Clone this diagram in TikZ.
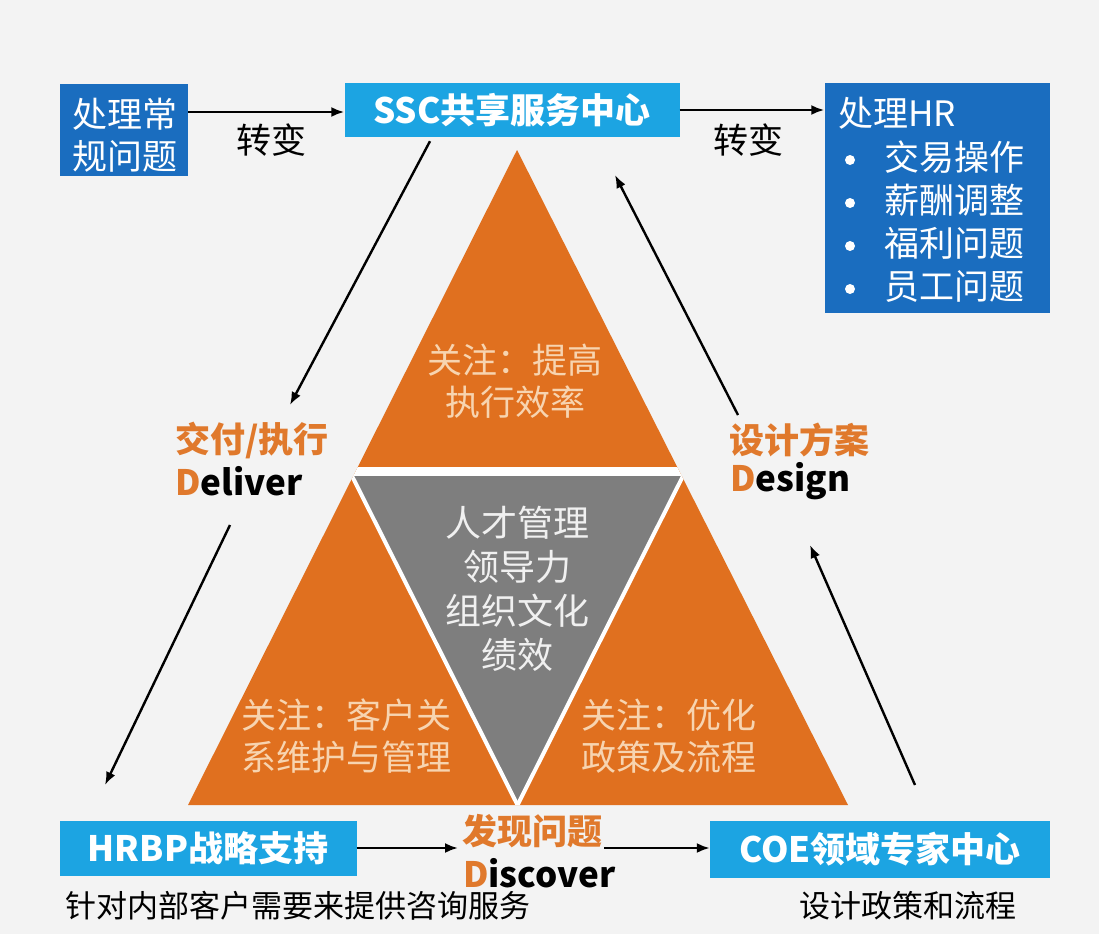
\documentclass[tikz,border=0pt]{standalone}
\usepackage{fontspec}
\setmainfont{Noto Sans CJK SC}
\usetikzlibrary{arrows.meta}
\definecolor{bg}{HTML}{F3F3F3}
\definecolor{darkblue}{HTML}{1A6DBF}
\definecolor{lightblue}{HTML}{1CA4E2}
\definecolor{tri}{HTML}{E0701F}
\definecolor{trigray}{HTML}{7E7E7E}
\definecolor{peach}{HTML}{F7D4B0}
\definecolor{lblorange}{HTML}{E0792C}
\begin{document}
\begin{tikzpicture}[x=1pt,y=-1pt,
  boxdark/.style={fill=darkblue,inner sep=0pt},
  boxlight/.style={fill=lightblue,inner sep=0pt,text=white,font=\fontsize{35}{38}\selectfont\bfseries},
  arr/.style={-{Latex[length=13pt,width=10pt]},line width=2.4pt,black},
  plain/.style={font=\fontsize{35}{38}\selectfont,text=black},
  wtxt/.style={text=white,font=\fontsize{35}{42}\selectfont,align=left,anchor=west,inner sep=0pt},
  trtxt/.style={text=peach,font=\fontsize{35}{42}\selectfont,align=center},
  lbl/.style={font=\fontsize{35}{38}\selectfont\bfseries,text=lblorange,anchor=west,inner sep=0pt},
  lbleng/.style={font=\fontsize{35}{38}\selectfont\bfseries,text=black,anchor=west,inner sep=0pt},
  sub/.style={font=\fontsize{31}{34}\selectfont,text=black},
  dot/.style={circle,fill=white,inner sep=0pt,minimum size=10pt}]
\useasboundingbox (0,0) rectangle (1099,934);
\fill[bg] (0,0) rectangle (1099,934);

% pyramid
\fill[tri] (517,150) -- (188,805) -- (848,805) -- cycle;
\fill[trigray] (353,476) -- (682,476) -- (517.5,805) -- cycle;
\begin{scope}
  \clip (517,150) -- (188,805) -- (848,805) -- cycle;
  \fill[white] (150,467) rectangle (900,476);
  \draw[white,line width=4pt] (352,476) -- (517.5,805);
  \draw[white,line width=4pt] (683,476) -- (517.5,805);
\end{scope}
\node[trtxt] (ttop) at (515,381) {关注：提高\\执行效率};
\node[trtxt,text=white!94!black,font=\fontsize{36}{44}\selectfont] (tmid) at (517,589) {人才管理\\领导力\\组织文化\\绩效};
\node[trtxt] (tleft) at (346,736) {关注：客户关\\系维护与管理};
\node[trtxt] (tright) at (669,736) {关注：优化\\政策及流程};

% boxes
\node[boxdark,minimum width=128pt,minimum height=92pt] (b1) at (124,130) {};
\node[wtxt,align=center,anchor=center] (b1t) at (125,135) {处理常\\规问题};
\node[boxlight,minimum width=335pt,minimum height=54pt] (ssc) at (512,110) {SSC共享服务中心};
\node[boxdark,minimum width=225pt,minimum height=230pt] (rb) at (937,198) {};
\node[wtxt] (rb0) at (838,113) {处理HR};
\node[dot] (d1) at (850,160) {};
\node[dot] (d2) at (850,203) {};
\node[dot] (d3) at (850,246) {};
\node[dot] (d4) at (850,289) {};
\node[wtxt] (rb1) at (884,157) {交易操作};
\node[wtxt] (rb2) at (884,200) {薪酬调整};
\node[wtxt] (rb3) at (884,243) {福利问题};
\node[wtxt] (rb4) at (884,286) {员工问题};
\node[boxlight,minimum width=297pt,minimum height=55pt] (hrbp) at (208,848) {HRBP战略支持};
\node[boxlight,minimum width=340pt,minimum height=57pt] (coe) at (880,849) {COE领域专家中心};

% texts
\node[plain] (zb1) at (271,140) {转变};
\node[plain] (zb2) at (748,140) {转变};
\node[lbl] (deliv1) at (175,440) {交付/执行};
\node[lbleng] (deliv2) at (175,481) {{\color{lblorange}D}eliver};
\node[lbl] (desg1) at (729,440) {设计方案};
\node[lbleng] (desg2) at (730,481) {{\color{lblorange}D}esign};
\node[lbl] (disc1) at (462,831) {发现问题};
\node[lbleng] (disc2) at (463,873) {{\color{lblorange}D}iscover};
\node[sub] (sub1) at (298,906) {针对内部客户需要来提供咨询服务};
\node[sub] (sub2) at (908,906) {设计政策和流程};

% coordinates
\coordinate (a1s) at ([yshift=18pt]b1.east);
\coordinate (c1) at (290,405);
\coordinate (c2s) at (230,525);
\coordinate (c2e) at (105,785);
\coordinate (c3s) at (915,785);
\coordinate (c3e) at (810,545);
\coordinate (c4s) at (738,415);
\coordinate (c4e) at (615,175);
\coordinate (dA) at (458,848);
\coordinate (dB) at (604,848);

% connectors
\draw[arr] (a1s) -- (a1s -| ssc.west);
\draw[arr] (ssc.east) -- (rb.west |- ssc.east);
\draw[arr] ([xshift=-82pt,yshift=-4pt]ssc.south) -- (c1);
\draw[arr] (c2s) -- (c2e);
\draw[arr] (c3s) -- (c3e);
\draw[arr] (c4s) -- (c4e);
\draw[arr] (hrbp.east) -- (dA);
\draw[arr] (dB) -- (dB -| coe.west);
\end{tikzpicture}
\end{document}
